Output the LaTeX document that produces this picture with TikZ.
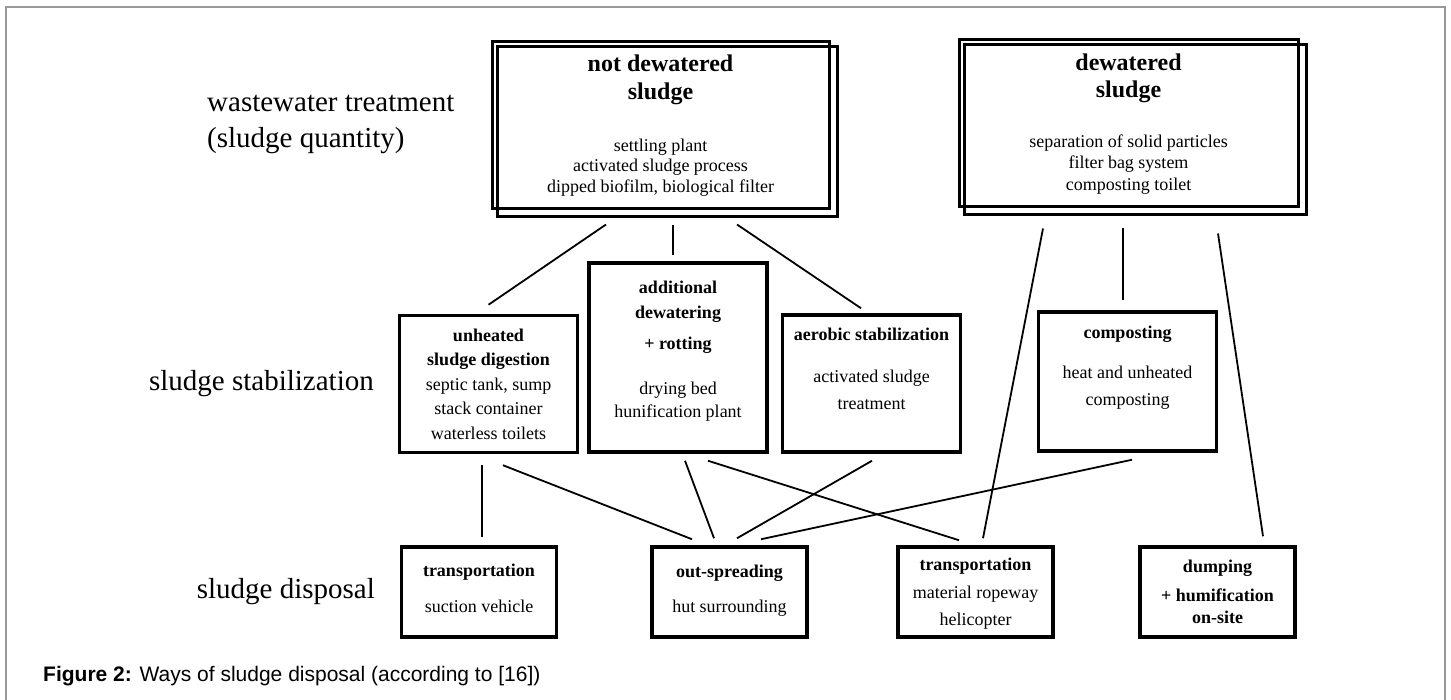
\documentclass[tikz,border=0pt]{standalone}
\usepackage{fontspec}
\setmainfont{Liberation Serif}
\newfontfamily\capfont{Liberation Sans}

\begin{document}
\begin{tikzpicture}[x=1pt,y=-1pt,line join=miter]
  \tikzset{box/.style={draw,line width=3.5pt,inner sep=0pt,align=center,font=\fontsize{18}{24.5}\selectfont},
           topbox/.style={box,line width=3pt,minimum width=337pt,minimum height=167pt},
           midbox/.style={box,minimum width=178pt,minimum height=137pt},
           lowbox/.style={box,minimum width=155pt,minimum height=90pt},
           txt/.style={align=center,inner sep=0pt,font=\fontsize{18}{24}\selectfont},
           head/.style={txt,font=\fontsize{24}{28}\selectfont\bfseries},
           level/.style={inner sep=0pt,font=\fontsize{29}{36}\selectfont},
           link/.style={line width=1.8pt}}
  \useasboundingbox (0,0) rectangle (1451,700);
  \draw[black!40,line width=1.5pt] (6,700) -- (6,7) -- (1445,7) -- (1445,700);

  \node[level,anchor=west,align=left] (lblww) at (207,124) {wastewater treatment\\(sludge quantity)};
  \node[level,anchor=east] (lblst) at (374,384) {sludge stabilization};
  \node[level,anchor=east] (lbldp) at (375,592) {sludge disposal};

  \node[topbox] (nds) at (660.5,125.5) {};
  \draw[line width=3pt] ([shift={(7pt,-6pt)}]nds.south west) rectangle ([shift={(7pt,-6pt)}]nds.north east);
  \node[head] at ([yshift=45.5pt]nds) {not dewatered\\sludge};
  \node[txt,font=\fontsize{18}{20.5}\selectfont] at ([yshift=-42pt]nds) {settling plant\\activated sludge process\\dipped biofilm, biological filter};

  \node[topbox,minimum width=339pt] (dws) at (1128.5,123.5) {};
  \draw[line width=3pt] ([shift={(7pt,-6pt)}]dws.south west) rectangle ([shift={(7pt,-6pt)}]dws.north east);
  \node[head,font=\fontsize{24}{27}\selectfont\bfseries] at ([yshift=45pt]dws) {dewatered\\sludge};
  \node[txt,font=\fontsize{18}{21.5}\selectfont] at ([yshift=-41pt]dws) {separation of solid particles\\filter bag system\\composting toilet};

  \node[midbox] (uhd) at (488.5,384) {\textbf{unheated}\\\textbf{sludge digestion}\\septic tank, sump\\stack container\\waterless toilets};
  \node[midbox,minimum height=189pt] (adw) at (678,357.5) {};
  \node[txt] at ([yshift=6.5pt]adw) {\textbf{additional}\\[1pt]\textbf{dewatering}\\[7pt]\textbf{+ rotting}\hspace*{20pt}\\[21pt]drying bed\\[-1pt]hunification plant};
  \node[midbox] (aer) at (871.5,383.5) {};
  \node[txt,font=\fontsize{18}{27}\selectfont] at ([yshift=15pt]aer) {\textbf{aerobic stabilization}\\[15pt]activated sludge\\treatment};
  \node[midbox,minimum height=139pt] (cmp) at (1127.5,381.5) {};
  \node[txt,font=\fontsize{18}{27}\selectfont] at ([yshift=14pt]cmp) {\textbf{composting}\\[13pt]heat and unheated\\composting};

  \node[lowbox] (trs) at (479,592) {};
  \node[txt] at ([yshift=4pt]trs) {\textbf{transportation}\\[12pt]suction vehicle};
  \node[lowbox] (osp) at (729.5,592) {};
  \node[txt] at ([yshift=1.5pt]osp) {\textbf{out-spreading}\\[11pt]hut surrounding};
  \node[lowbox] (trm) at (975.5,592) {};
  \node[txt,font=\fontsize{18}{27.5}\selectfont] at ([yshift=-2pt]trm) {\textbf{transportation}\\material ropeway\\helicopter};
  \node[lowbox] (dmp) at (1217.5,592) {};
  \node[txt,font=\fontsize{18}{22}\selectfont] at ([yshift=0.5pt]dmp) {\textbf{dumping}\\[7pt]\textbf{+ humification}\\\textbf{on-site}};

  \draw[link] ([xshift=-54.5pt,yshift=-14pt]nds.south) -- ([yshift=9pt]uhd.north);
  \draw[link] ([xshift=12.5pt,yshift=-15pt]nds.south) -- ([xshift=-5pt,yshift=6pt]adw.north);
  \draw[link] ([xshift=76.5pt,yshift=-14pt]nds.south) -- ([xshift=-10.5pt,yshift=5pt]aer.north);
  \draw[link] ([xshift=-85.5pt,yshift=-20pt]dws.south) -- ([xshift=7.5pt,yshift=7pt]trm.north);
  \draw[link] ([xshift=-5.5pt,yshift=-20pt]dws.south) -- ([xshift=-4.5pt,yshift=10pt]cmp.north);
  \draw[link] ([xshift=89.5pt,yshift=-25pt]dws.south) -- ([xshift=45.5pt,yshift=9pt]dmp.north);
  \draw[link] ([xshift=-6.5pt,yshift=-11pt]uhd.south) -- ([xshift=3pt,yshift=8pt]trs.north);
  \draw[link] ([xshift=14.5pt,yshift=-11pt]uhd.south) -- ([xshift=-37.5pt,yshift=6pt]osp.north);
  \draw[link] ([xshift=7pt,yshift=-7pt]adw.south) -- ([xshift=-15.5pt,yshift=7pt]osp.north);
  \draw[link] ([xshift=30pt,yshift=-7pt]adw.south) -- ([xshift=-16.5pt,yshift=5pt]trm.north);
  \draw[link] ([xshift=0.5pt,yshift=-7pt]aer.south) -- ([xshift=7.5pt,yshift=7pt]osp.north);
  \draw[link] ([xshift=4.5pt,yshift=-7pt]cmp.south) -- ([xshift=31.5pt,yshift=6pt]osp.north);

  \node[anchor=west,inner sep=0pt,font=\capfont\fontsize{21}{25}\selectfont] (cap) at (43,676) {\textbf{Figure 2:} Ways of sludge disposal (according to [16])};
\end{tikzpicture}
\end{document}
